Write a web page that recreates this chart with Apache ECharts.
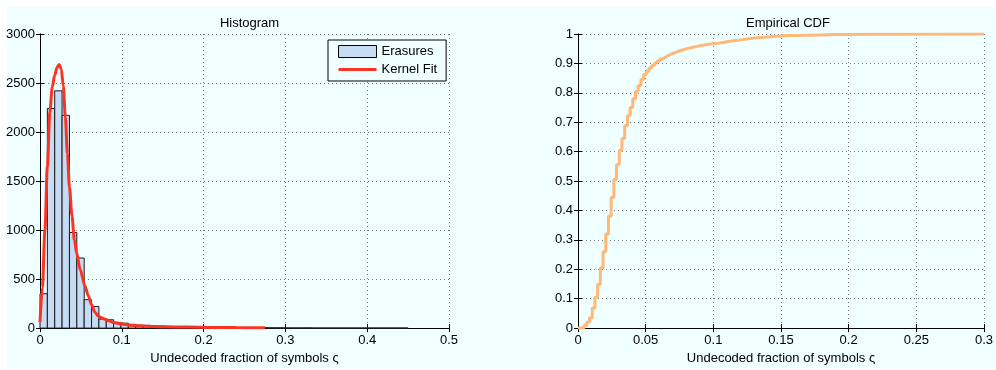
<!DOCTYPE html>
<html>
<head>
<meta charset="utf-8">
<script src="https://cdn.jsdelivr.net/npm/echarts@6/dist/echarts.min.js"></script>
<style>
  html, body { margin: 0; padding: 0; background: #fff; }
  #chart { width: 996px; height: 370px; }
</style>
</head>
<body>
<div id="chart"></div>
<script>
// Histogram of undecoded fractions: 50 bins of equal width starting at 0
const histBinStart = 0;
const histBinWidth = 0.009;
const histCounts = [
  350, 2240, 2420, 2170, 975, 715, 290, 220, 92, 85,
  58, 50, 38, 30, 28, 22, 20, 17, 15, 13,
  12, 10, 9, 8, 7, 6, 6, 5, 5, 4,
  4, 3, 3, 2, 2, 2, 2, 1, 1, 1,
  1, 1, 1, 1, 1, 1, 1, 1, 1, 1
];

// Kernel density fit, scaled to counts
const kernelX = [0, 0.003, 0.006, 0.009, 0.012, 0.015, 0.018, 0.021, 0.0235, 0.026,
  0.0285, 0.031, 0.0335, 0.036, 0.039, 0.042, 0.045, 0.049, 0.055, 0.059,
  0.063, 0.067, 0.071, 0.075, 0.08, 0.085, 0.09, 0.1, 0.11, 0.13,
  0.15, 0.18, 0.21, 0.24, 0.275];
const kernelY = [60, 420, 1000, 1650, 2200, 2460, 2580, 2660, 2690, 2640,
  2470, 2150, 1780, 1440, 1150, 900, 760, 600, 430, 330,
  240, 165, 125, 105, 90, 72, 58, 42, 30, 20,
  14, 10, 7, 5, 3];

// Empirical CDF (step positions and cumulative probability)
const cdfX = [0, 0.0045, 0.0065, 0.0085, 0.0105, 0.0125, 0.0145, 0.0165, 0.0185, 0.0205,
  0.0225, 0.0245, 0.0265, 0.0285, 0.0305, 0.0325, 0.0345, 0.0365, 0.0385, 0.0405,
  0.0425, 0.0445, 0.0465, 0.0485, 0.0505, 0.0525, 0.0545, 0.0565, 0.0585, 0.0605,
  0.0625, 0.0645, 0.0665, 0.0685, 0.071, 0.0735, 0.076, 0.079, 0.082, 0.085,
  0.088, 0.091, 0.094, 0.097, 0.1, 0.104, 0.108, 0.112, 0.116, 0.12,
  0.125, 0.13, 0.135, 0.14, 0.146, 0.152, 0.16, 0.17, 0.18, 0.19,
  0.2, 0.215, 0.23, 0.3];
const cdfY = [0, 0.01, 0.02, 0.035, 0.068, 0.105, 0.148, 0.205, 0.26, 0.32,
  0.38, 0.445, 0.505, 0.555, 0.605, 0.645, 0.688, 0.722, 0.75, 0.78,
  0.805, 0.825, 0.845, 0.862, 0.873, 0.884, 0.893, 0.901, 0.908, 0.915,
  0.921, 0.926, 0.931, 0.936, 0.94, 0.944, 0.948, 0.952, 0.955, 0.958,
  0.961, 0.963, 0.965, 0.967, 0.969, 0.972, 0.975, 0.978, 0.98, 0.983,
  0.986, 0.988, 0.99, 0.992, 0.994, 0.995, 0.996, 0.997, 0.998, 0.9985,
  0.999, 0.9995, 1, 1];

const histTicks = { min: 0, max: 0.5, interval: 0.1 };
const histCountTicks = { min: 0, max: 3000, interval: 500 };
const cdfTicks = { min: 0, max: 0.3, interval: 0.05 };
const cdfProbTicks = { min: 0, max: 1, interval: 0.1 };

const FONT = 'Liberation Sans, Arial, Helvetica, sans-serif';
const BG = '#f0ffff';
const xName = 'Undecoded fraction of symbols ς';

const histData = histCounts.map((c, i) => [
  histBinStart + i * histBinWidth,
  histBinStart + (i + 1) * histBinWidth,
  c
]);
const kernelData = kernelX.map((x, i) => [x, kernelY[i]]);
const cdfData = cdfX.map((x, i) => [x, cdfY[i]]);

const gridLine = { show: true, lineStyle: { color: '#7a7a7a', width: 1, type: [1, 3] } };
const axisLine = { show: true, lineStyle: { color: '#000', width: 1 } };
const tick = { show: true, inside: true, length: 4, lineStyle: { color: '#000' } };
const label = { color: '#000', fontSize: 13, fontFamily: FONT, formatter: v => String(+v.toFixed(6)) };

function mainX(gridIndex, t) {
  return {
    type: 'value', gridIndex, position: 'bottom', ...t,
    name: xName, nameLocation: 'middle', nameGap: 20,
    nameTextStyle: { color: '#000', fontSize: 13, fontFamily: FONT },
    axisLine, axisTick: tick, axisLabel: { ...label, margin: 6 },
    splitLine: gridLine
  };
}
function mainY(gridIndex, t) {
  return {
    type: 'value', gridIndex, position: 'left', ...t,
    axisLine, axisTick: tick, axisLabel: { ...label, margin: 5 },
    splitLine: gridLine
  };
}
function frameAxis(gridIndex, pos, t) {
  return {
    type: 'value', gridIndex, position: pos, ...t,
    axisLine, axisTick: tick, axisLabel: { show: false }, splitLine: { show: false }
  };
}

const chart = echarts.init(document.getElementById('chart'), null, { renderer: 'canvas' });
chart.setOption({
  animation: false,
  backgroundColor: '#fff',
  graphic: [{
    type: 'rect', z: -100, silent: true,
    shape: { x: 7, y: 7, width: 989, height: 361 },
    style: { fill: BG }
  }],
  title: [
    { text: 'Histogram', left: 244.5, top: 12, textAlign: 'center',
      textStyle: { fontSize: 13, fontWeight: 'normal', color: '#000', fontFamily: FONT } },
    { text: 'Empirical CDF', left: 783, top: 12, textAlign: 'center',
      textStyle: { fontSize: 13, fontWeight: 'normal', color: '#000', fontFamily: FONT } }
  ],
  legend: {
    orient: 'vertical', left: 328, top: 40,
    padding: [5, 9, 5, 10], itemGap: 5, itemWidth: 38, itemHeight: 12,
    borderColor: '#000', borderWidth: 1, backgroundColor: BG,
    textStyle: { color: '#000', fontSize: 13, fontFamily: FONT },
    data: [
      { name: 'Erasures', icon: 'rect',
        itemStyle: { color: '#c6dcf4', borderColor: '#000', borderWidth: 1 } },
      { name: 'Kernel Fit', icon: 'path://M0,0H38V3H0Z',
        itemStyle: { color: '#fa3424', borderWidth: 0 } }
    ]
  },
  grid: [
    { left: 40, top: 34, width: 409, height: 296, show: true, backgroundColor: BG, borderWidth: 0 },
    { left: 578, top: 34, width: 410, height: 296, show: true, backgroundColor: BG, borderWidth: 0 }
  ],
  xAxis: [
    mainX(0, histTicks),
    frameAxis(0, 'top', histTicks),
    mainX(1, cdfTicks),
    frameAxis(1, 'top', cdfTicks)
  ],
  yAxis: [
    mainY(0, histCountTicks),
    frameAxis(0, 'right', histCountTicks),
    mainY(1, cdfProbTicks),
    frameAxis(1, 'right', cdfProbTicks)
  ],
  series: [
    {
      name: 'Erasures', type: 'custom', xAxisIndex: 0, yAxisIndex: 0,
      data: histData, encode: { x: [0, 1], y: 2 },
      itemStyle: { color: '#c6dcf4', borderColor: '#000', borderWidth: 1 },
      renderItem(params, api) {
        const topLeft = api.coord([api.value(0), api.value(2)]);
        const bottomRight = api.coord([api.value(1), 0]);
        return {
          type: 'rect',
          shape: {
            x: topLeft[0], y: topLeft[1],
            width: bottomRight[0] - topLeft[0],
            height: bottomRight[1] - topLeft[1]
          },
          style: { fill: '#c6dcf4', stroke: '#1a1a1a', lineWidth: 1 }
        };
      }
    },
    {
      name: 'Kernel Fit', type: 'line', xAxisIndex: 0, yAxisIndex: 0,
      data: kernelData, symbol: 'none', smooth: 0.3, smoothMonotone: 'x',
      lineStyle: { color: '#fa3424', width: 3 }, itemStyle: { color: '#fa3424' }, z: 5
    },
    {
      name: 'CDF', type: 'line', xAxisIndex: 2, yAxisIndex: 2,
      data: cdfData, symbol: 'none', step: 'end',
      lineStyle: { color: '#ffb878', width: 3 }, itemStyle: { color: '#ffb878' }
    }
  ]
});
</script>
</body>
</html>
